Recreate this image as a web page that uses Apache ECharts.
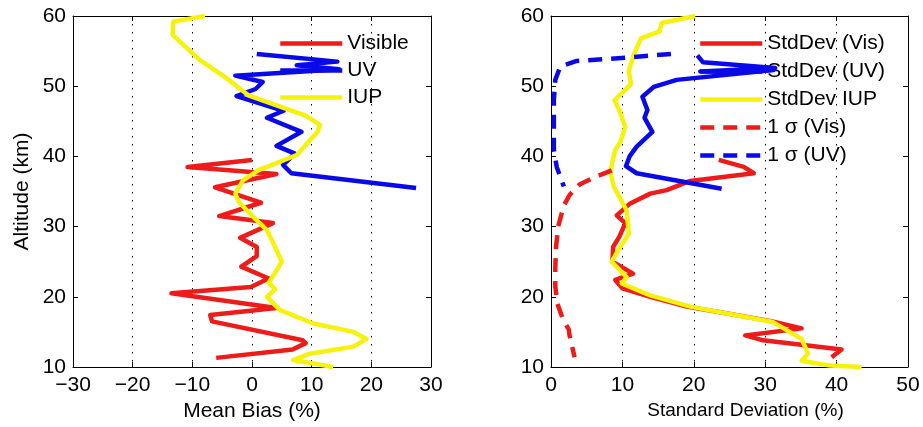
<!DOCTYPE html>
<html>
<head>
<meta charset="utf-8">
<script src="https://cdn.jsdelivr.net/npm/echarts@6/dist/echarts.min.js"></script>
<style>
  html, body { margin: 0; padding: 0; background: #fff; }
  #chart { width: 923px; height: 427px; }
</style>
</head>
<body>
<div id="chart"></div>
<script>
// Profiles as [value (%), altitude (km)] pairs.
const visibleBias = [[0,39.5],[-10.8,38.5],[4.1,37.5],[-6.2,35.6],[1.5,33.4],[-5.5,31.5],[3.5,30.5],[-2,28.4],[0.8,27.1],[0.8,25.8],[-1.8,24.3],[2.8,22.6],[-0.2,21.4],[-13.5,20.5],[4.1,18.4],[-7,17.4],[-6.7,16.5],[8.5,13.8],[9,13.4],[6.8,12.5],[-6,11.3]];
const uvBias = [[0.8,54.6],[14.3,53.5],[7.5,53.0],[14.6,52.4],[-2.8,51.5],[1.8,50.6],[0.6,49.6],[-2.6,48.6],[5.3,46.5],[2.5,45.5],[8.3,43.5],[4.1,41.5],[7.2,40.4],[5.2,38.8],[6.6,37.6],[27.5,35.5]];
const iupBias = [[-7.9,60],[-13.2,59.2],[-13.3,57.3],[-11,55.5],[-8.7,53.7],[-4.2,51.1],[-0.6,48.7],[4.7,47.1],[9,45.8],[11.4,44.5],[11,43.5],[9.7,42.3],[7.5,40.2],[4,39],[1,38],[-1.5,36.6],[-2.8,34.7],[-2.2,33.5],[0.2,31.4],[2.5,29.5],[3.6,27.6],[5,25],[3.8,23.3],[2.8,22],[3.9,21.1],[2.5,20],[4.7,18.1],[10.3,16.2],[17,15],[19.2,14],[17,12.9],[9.7,11.9],[6.9,11],[13.6,10]];

const stdVis = [[23.5,39.5],[27,38.5],[28.4,37.6],[19.5,36.5],[16.2,35.2],[13.9,34.7],[11.1,33.3],[9.2,31.6],[10.4,30.5],[9.6,28.6],[8.7,27.1],[8.6,25],[11.5,23.3],[9,22.4],[10,21.2],[13.9,20],[19,18.6],[23.7,17.8],[31,16.5],[35.1,15.5],[27.2,14.5],[29.7,13.8],[40.7,12.5],[39.3,11.4]];
const stdUV = [[20.5,54.4],[21.3,53.4],[31.4,52.6],[20.9,52.1],[31.2,52.3],[17.6,50.9],[14.4,49.9],[12.8,48.5],[13.5,46.6],[13.1,45.5],[14.2,43.5],[12,41.4],[11,40],[10.5,38.6],[12,37.6],[23.9,35.4]];
const stdIUP = [[20.2,60],[15.5,59],[15.2,57.8],[12.6,56.8],[11.6,54.5],[10.9,52.2],[11.2,50.3],[8.9,48],[9.6,46.5],[10.4,44.2],[9.7,42],[9,40.9],[8.3,37.8],[8.8,35.7],[10.6,32.3],[10.9,29],[9.7,27.1],[8.5,25],[10.6,22.8],[9.9,21.9],[13.9,20.2],[19.5,18.6],[23.7,17.8],[31.1,16.4],[35.1,14],[36,11.9],[35.1,10.9],[39.1,10.2],[43.5,10]];
const sigmaVis = [[8.5,38],[6,37],[4,36],[2.6,34.5],[1.8,33],[1,30],[0.7,27],[0.6,24],[0.6,21.5],[0.9,19],[1.6,17],[2.5,15.3],[2.6,14.5],[3.3,11.4]];
const sigmaUV = [[16.8,54.6],[11,54.1],[3.6,53.6],[1.3,52.8],[0.6,50.9],[0.4,48],[0.4,41],[0.8,38.5],[1.8,35.7]];

// Axis ranges and tick spacing
const biasRange = [-30, 30];
const stdRange = [0, 50];
const altRange = [10, 60];
const tickStep = 10;

const leftNames = ['Visible', 'UV', 'IUP'];
const rightNames = ['StdDev (Vis)', 'StdDev (UV)', 'StdDev IUP', '1 \u03c3 (Vis)', '1 \u03c3 (UV)'];

const FONT = "'Liberation Sans', Arial, sans-serif";
const RED = '#ee1b1b', BLUE = '#0a0ae8', YELLOW = '#f7f20c';
const LW = 4.5;
const DASH = [14, 9];

const minusFmt = v => String(v).replace('-', '\u2212');

function bottomAxis(grid, range, name, nameSize, namePad) {
  return {
    type: 'value', gridIndex: grid, position: 'bottom',
    min: range[0], max: range[1], interval: tickStep,
    axisLine: { show: true, onZero: false, lineStyle: { color: '#000', width: 1 } },
    axisTick: { show: true, inside: true, length: 5, lineStyle: { color: '#000' } },
    axisLabel: { color: '#000', fontFamily: FONT, fontSize: 21, margin: 8, formatter: minusFmt },
    splitLine: { show: true, lineStyle: { color: '#000', width: 1, type: [1.5, 6.5] } },
    name: name, nameLocation: 'middle', nameGap: 33,
    nameTextStyle: { color: '#000', fontFamily: FONT, fontSize: nameSize, padding: namePad }
  };
}
function topAxis(grid, range) {
  return {
    type: 'value', gridIndex: grid, position: 'top',
    min: range[0], max: range[1], interval: tickStep,
    axisLine: { show: true, onZero: false, lineStyle: { color: '#000', width: 1 } },
    axisTick: { show: true, inside: true, length: 5, lineStyle: { color: '#000' } },
    axisLabel: { show: false }, splitLine: { show: false }
  };
}
function leftAxis(grid, name) {
  return {
    type: 'value', gridIndex: grid, position: 'left',
    min: altRange[0], max: altRange[1], interval: tickStep,
    axisLine: { show: true, onZero: false, lineStyle: { color: '#000', width: 1 } },
    axisTick: { show: true, inside: true, length: 5, lineStyle: { color: '#000' } },
    axisLabel: { color: '#000', fontFamily: FONT, fontSize: 21, margin: 7 },
    splitLine: { show: false },
    name: name, nameLocation: 'middle', nameGap: 40, nameRotate: 90,
    nameTextStyle: { color: '#000', fontFamily: FONT, fontSize: 21 }
  };
}
function rightAxis(grid) {
  return {
    type: 'value', gridIndex: grid, position: 'right',
    min: altRange[0], max: altRange[1], interval: tickStep,
    axisLine: { show: true, onZero: false, lineStyle: { color: '#000', width: 1 } },
    axisTick: { show: true, inside: true, length: 5, lineStyle: { color: '#000' } },
    axisLabel: { show: false }, splitLine: { show: false }
  };
}

function profile(name, data, color, xi, yi, dashed) {
  return {
    type: 'line', name: name, data: data,
    xAxisIndex: xi, yAxisIndex: yi,
    symbol: 'none', showSymbol: false, z: 3, silent: true, animation: false,
    lineStyle: { color: color, width: LW, type: dashed ? DASH : 'solid', cap: 'butt', join: 'round' },
    itemStyle: { color: color }
  };
}

// Legend keys show only the line sample; the marker part is made transparent.
function legendFor(names, left, top, gap) {
  return {
    show: true, orient: 'vertical', left: left, top: top, z: 1,
    data: names, itemWidth: 62, itemHeight: 14, itemGap: gap,
    selectedMode: false,
    textStyle: { color: '#000', fontFamily: FONT, fontSize: 21, lineHeight: 21 },
    itemStyle: { opacity: 0 },
    lineStyle: { width: LW, opacity: 1 }
  };
}

const chart = echarts.init(document.getElementById('chart'), null, { renderer: 'canvas' });
chart.setOption({
  animation: false,
  backgroundColor: '#fff',
  grid: [
    { left: 73, right: 492, top: 16, bottom: 60 },
    { left: 551, right: 15, top: 16, bottom: 60 }
  ],
  xAxis: [
    bottomAxis(0, biasRange, 'Mean Bias (%)', 21, [0, 0, 0, 0]),
    topAxis(0, biasRange),
    bottomAxis(1, stdRange, 'Standard Deviation (%)', 19, [0, 0, 0, 32]),
    topAxis(1, stdRange)
  ],
  yAxis: [
    leftAxis(0, 'Altitude (km)'),
    rightAxis(0),
    leftAxis(1, ''),
    rightAxis(1)
  ],
  legend: [
    legendFor(leftNames, 273, 28, 6),
    legendFor(rightNames, 693, 28, 7)
  ],
  series: [
    profile(leftNames[0], visibleBias, RED, 0, 0, false),
    profile(leftNames[1], uvBias, BLUE, 0, 0, false),
    profile(leftNames[2], iupBias, YELLOW, 0, 0, false),
    profile(rightNames[0], stdVis, RED, 2, 2, false),
    profile(rightNames[1], stdUV, BLUE, 2, 2, false),
    profile(rightNames[2], stdIUP, YELLOW, 2, 2, false),
    profile(rightNames[3], sigmaVis, RED, 2, 2, true),
    profile(rightNames[4], sigmaUV, BLUE, 2, 2, true)
  ]
});
</script>
</body>
</html>
